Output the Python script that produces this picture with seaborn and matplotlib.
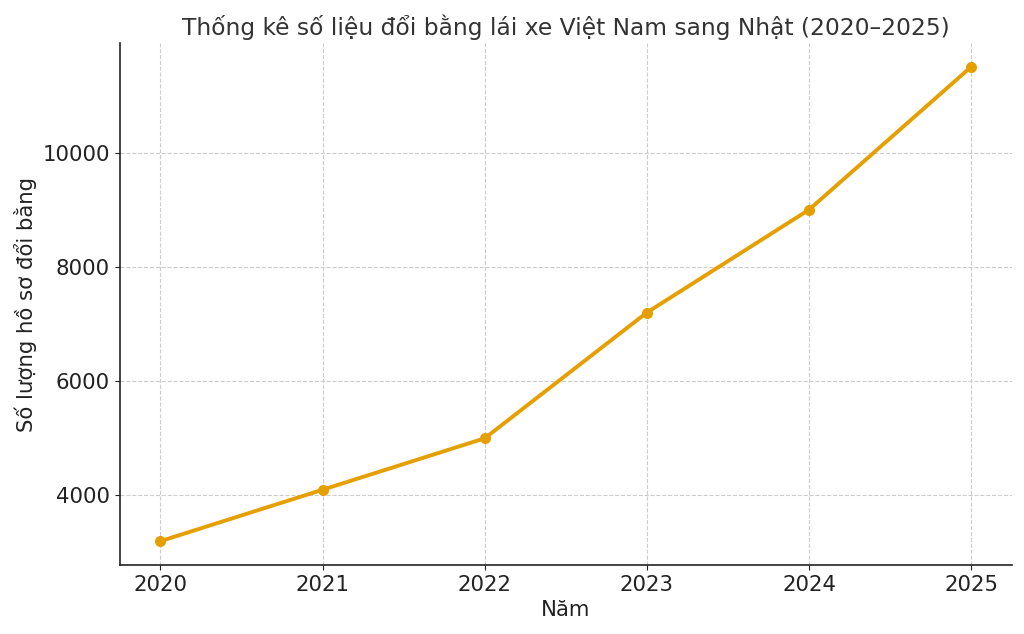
import matplotlib
matplotlib.use("Agg")
import matplotlib.pyplot as plt
import seaborn as sns
import pandas as pd

years = [2020, 2021, 2022, 2023, 2024, 2025]
counts = [3200, 4100, 5000, 7200, 9000, 11500]

sns.set_style("ticks")
plt.rcParams['font.family'] = ['DejaVu Sans']

df = pd.DataFrame({"Năm": years, "Số lượng": counts})

fig, ax = plt.subplots(figsize=(10.24, 6.34), dpi=100)
sns.lineplot(data=df, x="Năm", y="Số lượng", ax=ax, color="#E69F00",
             linewidth=2.8, marker="o", markersize=8, markeredgewidth=0)
ax.set_xticks(years)
ax.tick_params(labelsize=15.3, colors="#222222")
ax.set_xlabel("Năm", fontsize=15.3, color="#222222")
ax.set_ylabel("Số lượng hồ sơ đổi bằng", fontsize=15.3, color="#222222")
ax.set_title("Thống kê số liệu đổi bằng lái xe Việt Nam sang Nhật (2020–2025)",
             fontsize=16.8, color="#333333")
ax.grid(True, linestyle="--", color="#cccccc", linewidth=0.8)
sns.despine(ax=ax)
for s in ("left", "bottom"):
    ax.spines[s].set_color("#222222")
    ax.spines[s].set_linewidth(1.2)
fig.subplots_adjust(left=0.117, right=0.988, top=0.932, bottom=0.109)
fig.savefig("out.png", dpi=100)
